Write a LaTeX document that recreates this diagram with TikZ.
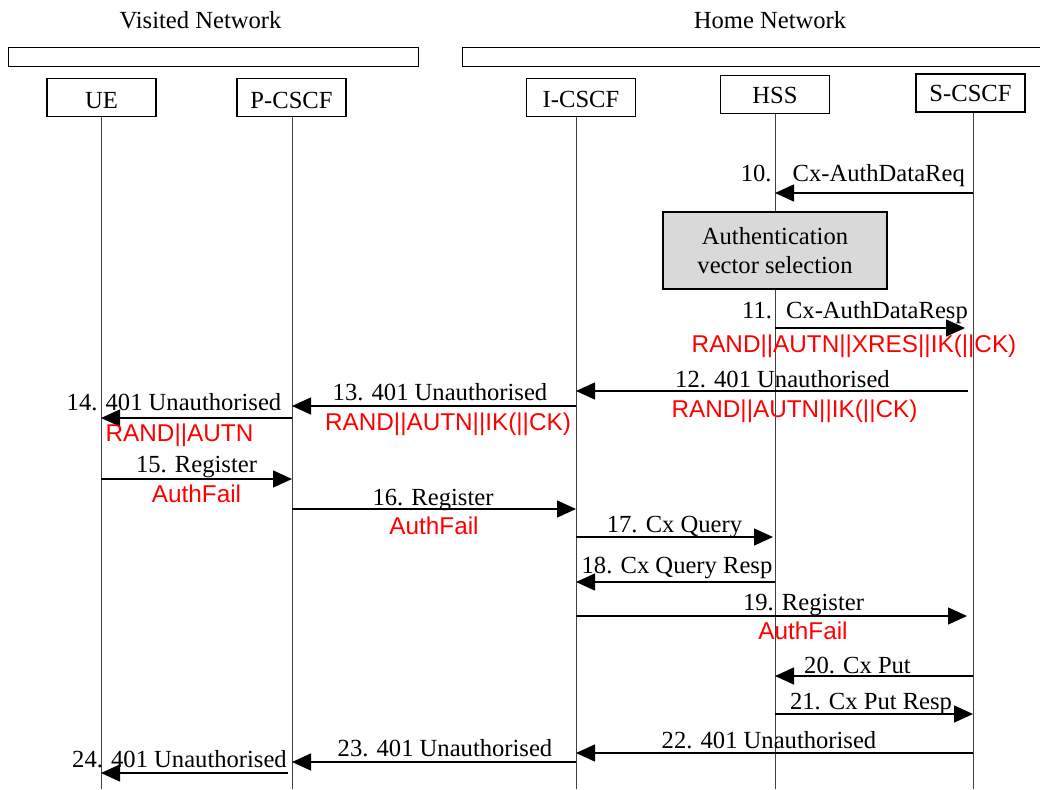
\documentclass[tikz,border=0pt]{standalone}
\usepackage{fontspec}
\setmainfont{Liberation Serif}
\newfontfamily\redfont{Liberation Sans}
\usetikzlibrary{arrows.meta}
\definecolor{boxgray}{HTML}{D9D9D9}
\begin{document}
\begin{tikzpicture}[x=1pt,y=-1pt,
  every node/.style={font=\fontsize{24.6}{29}\selectfont, inner sep=0pt},
  entity/.style={draw, line width=1.4pt, minimum width=109pt, minimum height=38pt, inner sep=0pt},
  netbar/.style={draw, line width=1pt},
  life/.style={draw=black!75, line width=1pt},
  msg/.style={line width=1.4pt, -{Triangle[length=19pt,width=17pt]}},
  lbl/.style={anchor=base},
  red/.style={anchor=base, text=red, font=\fontsize{24.3}{29}\redfont},
  procbox/.style={draw, line width=1.4pt, fill=boxgray, align=center, minimum width=224pt, minimum height=77pt, inner sep=0pt}]
\useasboundingbox (0,0) rectangle (1040,789);
% network headers
\node[lbl] (visited) at (200.5,29) {Visited Network};
\node[lbl] (home) at (770,29) {Home Network};
\draw[netbar] (8,48) rectangle (418,67);
\draw[netbar] (462,48) rectangle (1050,67);
% entities
\node[entity] (ue) at (101.5,97.5) {};
\node[lbl] (uet) at (101.5,109) {UE};
\node[entity] (pcscf) at (291.5,97.5) {};
\node[lbl] (pcscft) at (291.5,109) {P-CSCF};
\node[entity] (icscf) at (581,97.5) {};
\node[lbl] (icscft) at (581,107) {I-CSCF};
\node[entity] (hss) at (775,94.5) {};
\node[lbl] (hsst) at (775,104) {HSS};
\node[entity] (scscf) at (970.5,93) {};
\node[lbl] (scscft) at (970.5,102) {S-CSCF};
% lifelines
\coordinate (ueL) at (101,789);
\coordinate (pL) at (292,789);
\coordinate (iL) at (576,789);
\coordinate (hL) at (775,789);
\coordinate (sL) at (973,789);
\draw[life] (ue.south -| ueL) -- (ueL);
\draw[life] (pcscf.south -| pL) -- (pL);
\draw[life] (icscf.south -| iL) -- (iL);
\draw[life] (hss.south -| hL) -- (hL);
\draw[life] (scscf.south -| sL) -- (sL);
% 10
\draw[msg] (sL |- 0,193) -- (hL |- 0,193);
\node[anchor=base east] (l10) at (965,181) {10.\hspace{21pt}Cx-AuthDataReq};
% auth box
\node[procbox] (auth) at (775,250.5) {};
\node[lbl] (autht1) at (775,244) {Authentication};
\node[lbl] (autht2) at (775,273) {vector selection};
% 11
\draw[msg] (hL |- 0,328) -- ([xshift=-8pt]sL |- 0,328);
\node[anchor=base east] (l11) at (968,318) {11.\hspace{14pt}Cx-AuthDataResp};
\node[red] (r11) at (854,352) {RAND||AUTN||XRES||IK(||CK)};
% 12
\draw[msg] ([xshift=-5pt]sL |- 0,391) -- (iL |- 0,391);
\node[lbl] (l12) at (782.5,387) {12. 401 Unauthorised};
\node[red] (r12) at (794.5,417) {RAND||AUTN||IK(||CK)};
% 13
\draw[msg] (iL |- 0,406) -- (pL |- 0,406);
\node[lbl] (l13) at (440,400) {13. 401 Unauthorised};
\node[red] (r13) at (448,430) {RAND||AUTN||IK(||CK)};
% 14
\draw[msg] (pL |- 0,418) -- (ueL |- 0,418);
\node[lbl] (l14) at (174,410) {14. 401 Unauthorised};
\node[red] (r14) at (179.5,441) {RAND||AUTN};
% 15
\draw[msg] (ueL |- 0,479) -- (pL |- 0,479);
\node[lbl] (l15) at (196.5,472) {15. Register};
\node[red] (r15) at (196.5,502) {AuthFail};
% 16
\draw[msg] (pL |- 0,509) -- (iL |- 0,509);
\node[lbl] (l16) at (433,505) {16. Register};
\node[red] (r16) at (434,534) {AuthFail};
% 17
\draw[msg] (iL |- 0,537) -- ([xshift=-2pt]hL |- 0,537);
\node[lbl] (l17) at (674.5,532) {17. Cx Query};
% 18
\draw[msg] (hL |- 0,582) -- (iL |- 0,582);
\node[lbl] (l18) at (677,573) {18. Cx Query Resp};
% 19
\draw[msg] (iL |- 0,616) -- ([xshift=-6pt]sL |- 0,616);
\node[lbl] (l19) at (803.5,610) {19. Register};
\node[red] (r19) at (803,639) {AuthFail};
% 20
\draw[msg] (sL |- 0,676) -- (hL |- 0,676);
\node[lbl] (l20) at (857.5,673) {20. Cx Put};
% 21
\draw[msg] (hL |- 0,714) -- (sL |- 0,714);
\node[lbl] (l21) at (871,709) {21. Cx Put Resp};
% 22
\draw[msg] (sL |- 0,753) -- (iL |- 0,753);
\node[lbl] (l22) at (769,748) {22. 401 Unauthorised};
% 23
\draw[msg] (iL |- 0,762) -- (pL |- 0,762);
\node[lbl] (l23) at (445,756) {23. 401 Unauthorised};
% 24
\draw[msg] ([xshift=-4pt]pL |- 0,773) -- (ueL |- 0,773);
\node[lbl] (l24) at (179.5,767) {24. 401 Unauthorised};
\end{tikzpicture}
\end{document}
